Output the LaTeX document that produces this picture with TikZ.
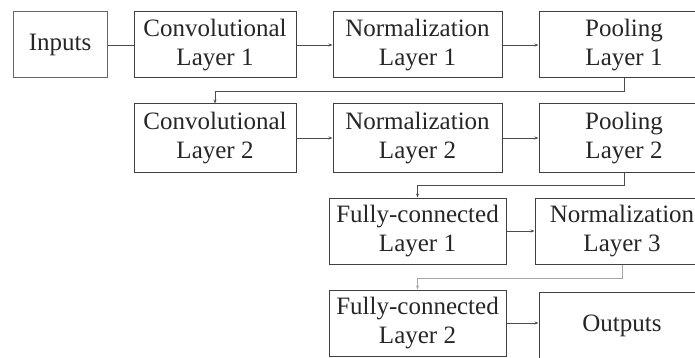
\documentclass[tikz,border=0pt]{standalone}
\usepackage{fontspec}
\setmainfont{Liberation Serif}
\usetikzlibrary{arrows.meta}
\tikzset{
  layer/.style={draw=black!75, line width=1pt, align=center, inner sep=0pt,
    minimum height=66pt, text=black!85, font=\fontsize{25}{29}\selectfont},
  link/.style={draw=black!70, line width=0.9pt, -{Stealth[length=4pt,width=3pt]}},
}
\begin{document}
\begin{tikzpicture}[x=1pt, y=-1pt]
  % frame of the picture
  \useasboundingbox (0,0) rectangle (695,358);
  \clip (0,0) rectangle (695,358);
  % first row
  \node[layer, minimum width=94pt, draw=black!60] (inputs) at (60,45) {Inputs};
  \node[layer, minimum width=162pt] (conv1) at (215,45) {Convolutional\\Layer 1};
  \node[layer, minimum width=169pt] (norm1) at (417.5,45) {Normalization\\Layer 1};
  \node[layer, minimum width=170pt] (pool1) at (624,45) {Pooling\\Layer 1};
  % second row
  \node[layer, minimum width=162pt, minimum height=68pt] (conv2) at (215,138) {Convolutional\\Layer 2};
  \node[layer, minimum width=169pt, minimum height=68pt] (norm2) at (417.5,138) {Normalization\\Layer 2};
  \node[layer, minimum width=170pt, minimum height=68pt] (pool2) at (624,138) {Pooling\\Layer 2};
  % third row
  \node[layer, minimum width=177pt] (fc1) at (417.5,231) {Fully-connected\\Layer 1};
  \node[layer, minimum width=174pt] (norm3) at (622,231) {Normalization\\Layer 3};
  % fourth row
  \node[layer, minimum width=177pt] (fc2) at (417.5,323) {Fully-connected\\Layer 2};
  \node[layer, minimum width=166pt, minimum height=68pt] (outputs) at (622,326) {Outputs};
  % connectors
  \draw[link, -] (inputs) -- (conv1);
  \draw[link] (conv1) -- (norm1);
  \draw[link] (norm1) -- (pool1);
  \draw[link] (pool1.south) -- ++(0,13) -| (conv2.north);
  \draw[link] (conv2) -- (norm2);
  \draw[link] (norm2) -- (pool2);
  \draw[link] (pool2.south) -- ++(0,13) -| (fc1.north);
  \draw[link] (fc1) -- (norm3);
  \draw[link, draw=black!35] (norm3.south) -- ++(0,14) -| (fc2.north);
  \draw[link] (fc2.east) -- (fc2.east -| outputs.west);
\end{tikzpicture}
\end{document}
